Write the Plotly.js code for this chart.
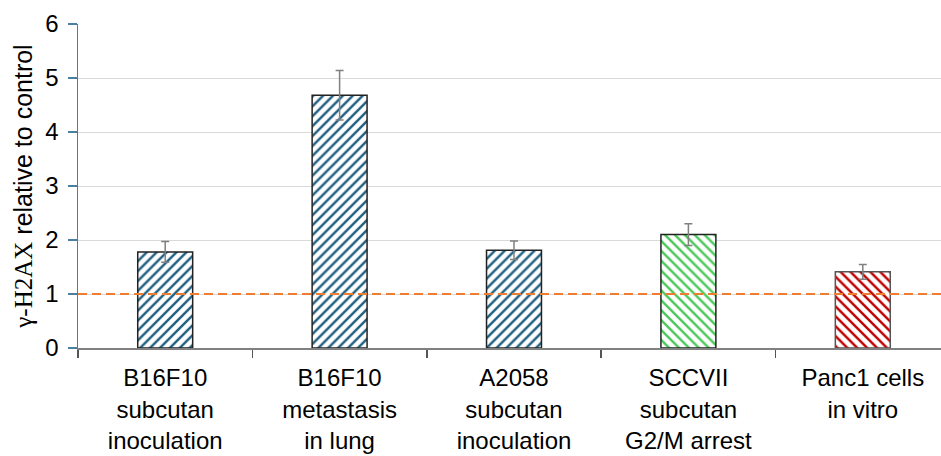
<!DOCTYPE html>
<html><head><meta charset="utf-8">
<script src="https://cdn.plot.ly/plotly-3.0.1.min.js"></script>
<style>html,body{margin:0;padding:0;overflow:hidden;background:#fff}#chart{width:950px;height:456px}</style>
</head><body><div id="chart"></div>
<script>
const categories = ["B16F10<br>subcutan<br>inoculation","B16F10<br>metastasis<br>in lung","A2058<br>subcutan<br>inoculation","SCCVII<br>subcutan<br>G2/M arrest","Panc1 cells<br>in vitro"];
const values = [1.78, 4.68, 1.81, 2.10, 1.41];
const errors = [0.19, 0.46, 0.17, 0.20, 0.135];
const stripeColors = ["#1F5F82","#1F5F82","#1F5F82","#4CC95A","#C00000"];
const stripeShapes = ["/","/","/","\\","\\"];
const outlineColors = ["#222","#222","#222","#222","#555"];
const refLevel = 1;

const trace = {
  type: "bar",
  x: categories,
  y: values,
  width: 0.315,
  marker: {
    color: "white",
    line: {color: outlineColors, width: 1.5},
    pattern: {shape: stripeShapes, fgcolor: stripeColors, bgcolor: "white", size: 7, solidity: 0.35, fillmode: "replace"}
  },
  error_y: {type: "data", array: errors, visible: true, color: "#808080", thickness: 1.5, width: 4},
  hoverinfo: "none"
};

const layout = {
  width: 950, height: 456,
  margin: {l: 78, r: 0, t: 24, b: 108},
  paper_bgcolor: "white", plot_bgcolor: "white",
  showlegend: false,
  font: {family: "Liberation Sans, Arial, sans-serif", color: "#000"},
  xaxis: {
    type: "category",
    tickson: "boundaries",
    ticks: "outside", ticklen: 8, tickcolor: "#555", tickwidth: 1.5,
    showline: true, linecolor: "#808080", linewidth: 1.5,
    showgrid: false,
    tickfont: {size: 24, color: "#000"},
    ticklabelstandoff: 8,
    automargin: false
  },
  yaxis: {
    range: [0, 6],
    dtick: 1,
    ticks: "outside", ticklen: 9, tickcolor: "#4A7FA0", tickwidth: 1.5,
    showline: true, linecolor: "#4A7FA0", linewidth: 1.5,
    showgrid: true, gridcolor: "#d9d9d9", gridwidth: 1,
    zeroline: false,
    tickfont: {size: 24, color: "#000"},
    ticklabelstandoff: 4,
    automargin: false,
    title: {text: "<span style='font-family:Liberation Serif, Times New Roman, serif'>γ-H2AX</span> relative to control", font: {size: 25, color: "#000"}, standoff: 5}
  },
  shapes: [{
    type: "line", xref: "paper", yref: "y", x0: 0, x1: 1, y0: refLevel, y1: refLevel,
    line: {color: "#ED7D31", width: 2, dash: "9px,5px"}
  }]
};

Plotly.newPlot("chart", [trace], layout, {displayModeBar: false, staticPlot: true});
</script></body></html>
